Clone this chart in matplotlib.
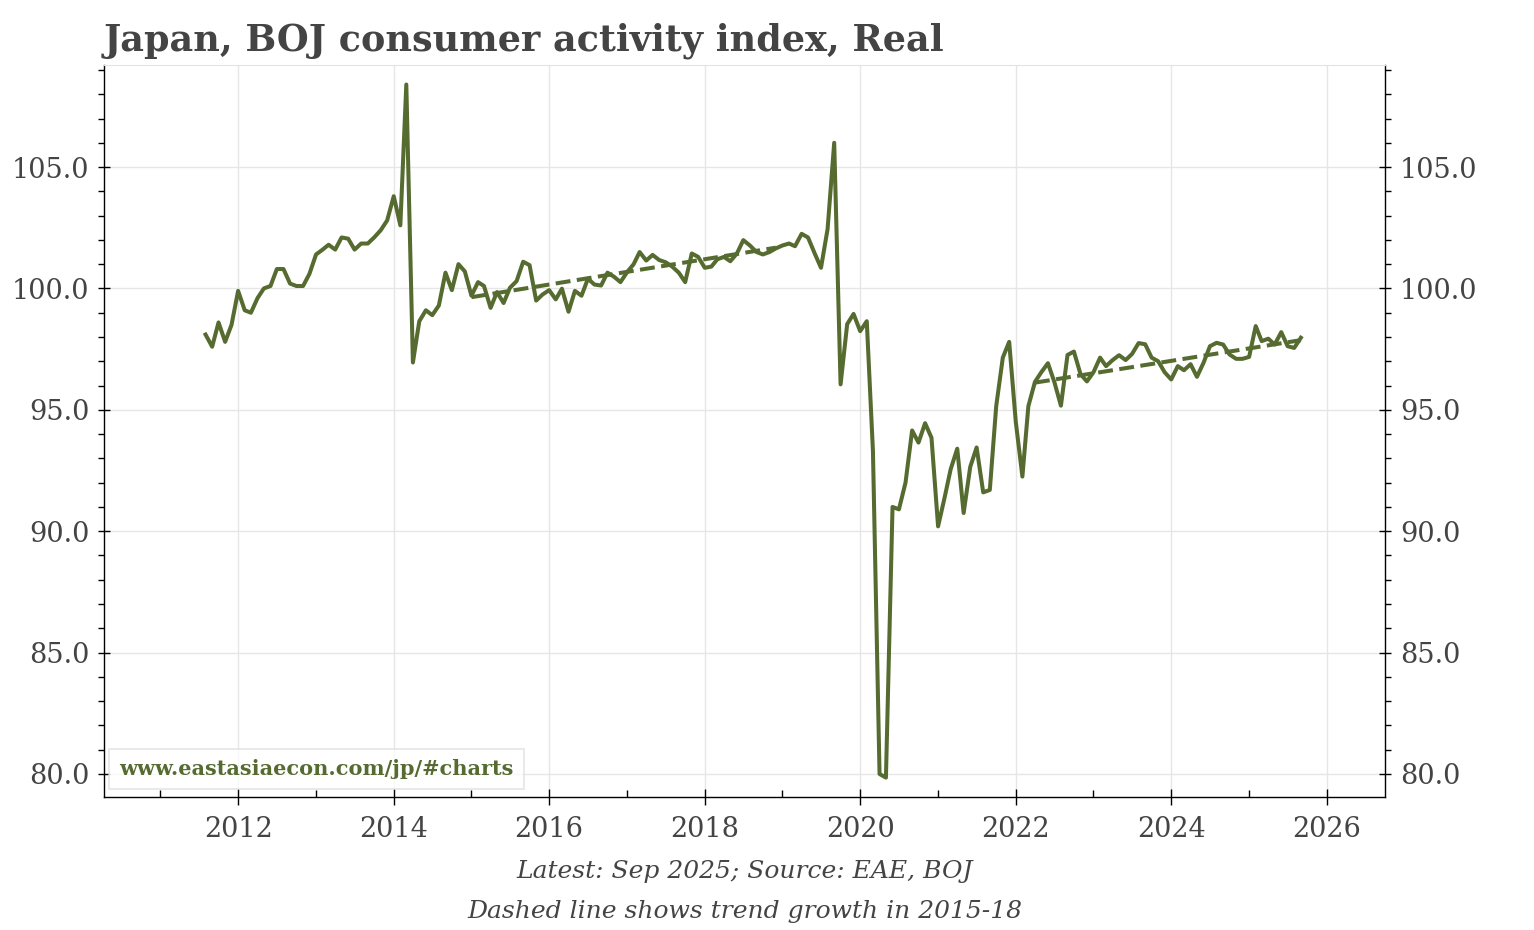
import pandas as pd
import matplotlib
matplotlib.use('Agg')
import matplotlib.pyplot as plt
import matplotlib.dates as mdates
from matplotlib.ticker import MultipleLocator, FormatStrFormatter

# BOJ consumer activity index, real (monthly, Aug 2011 - Sep 2025)
cai_2011 = [98.1, 97.6, 98.6, 97.8, 98.5]
cai_2012 = [99.9, 99.1, 99.0, 99.6, 100.0, 100.1, 100.8, 100.8, 100.2, 100.1, 100.1, 100.6]
cai_2013 = [101.4, 101.6, 101.8, 101.6, 102.1, 102.05, 101.6, 101.85, 101.85, 102.1, 102.4, 102.8]
cai_2014 = [103.8, 102.6, 108.4, 96.95, 98.65, 99.1, 98.9, 99.3, 100.65, 99.93, 101.0, 100.7]
cai_2015 = [99.7, 100.26, 100.1, 99.2, 99.85, 99.4, 100.03, 100.3, 101.1, 100.96, 99.5, 99.75]
cai_2016 = [99.93, 99.55, 99.99, 99.04, 99.9, 99.7, 100.4, 100.16, 100.12, 100.65, 100.48, 100.26]
cai_2017 = [100.67, 101.0, 101.5, 101.15, 101.38, 101.17, 101.08, 100.9, 100.65, 100.26, 101.44, 101.3]
cai_2018 = [100.85, 100.9, 101.2, 101.3, 101.12, 101.44, 101.99, 101.77, 101.5, 101.4, 101.5, 101.65]
cai_2019 = [101.77, 101.85, 101.74, 102.25, 102.1, 101.45, 100.85, 102.45, 106.0, 96.05, 98.53, 98.95]
cai_2020 = [98.24, 98.65, 93.3, 80.0, 79.85, 91.0, 90.9, 92.0, 94.15, 93.65, 94.45, 93.85]
cai_2021 = [90.2, 91.4, 92.55, 93.4, 90.75, 92.65, 93.45, 91.6, 91.7, 95.15, 97.15, 97.8]
cai_2022 = [94.5, 92.25, 95.15, 96.15, 96.55, 96.92, 96.15, 95.17, 97.26, 97.4, 96.47, 96.17]
cai_2023 = [96.55, 97.15, 96.8, 97.05, 97.25, 97.05, 97.3, 97.75, 97.7, 97.15, 97.0, 96.55]
cai_2024 = [96.25, 96.8, 96.63, 96.88, 96.36, 96.94, 97.62, 97.76, 97.69, 97.28, 97.1, 97.1]
cai_2025 = [97.18, 98.45, 97.83, 97.93, 97.69, 98.2, 97.62, 97.55, 97.97]

# trend growth 2015-18 (dashed lines), end points
trend1_dates = ['2015-01-01', '2018-12-01']
trend1_vals = [99.64, 101.68]
trend2_dates = ['2022-04-01', '2025-09-01']
trend2_vals = [96.12, 97.87]

cai = (cai_2011 + cai_2012 + cai_2013 + cai_2014 + cai_2015 + cai_2016 + cai_2017
       + cai_2018 + cai_2019 + cai_2020 + cai_2021 + cai_2022 + cai_2023 + cai_2024 + cai_2025)
dates = pd.date_range('2011-08-01', periods=len(cai), freq='MS')

green = '#566b30'
grey = '#444444'

plt.rcParams['font.family'] = ['DejaVu Serif']

fig = plt.figure(figsize=(15.34, 9.30), dpi=100)
ax = fig.add_axes([0.0678, 0.1435, 0.8353, 0.7865])

ax.plot(dates, cai, color=green, lw=2.9, solid_joinstyle='round', zorder=3)
ax.plot(pd.to_datetime(trend1_dates), trend1_vals, color=green, lw=2.9, ls='--', zorder=3)
ax.plot(pd.to_datetime(trend2_dates), trend2_vals, color=green, lw=2.9, ls='--', zorder=3)

ax.set_xlim(pd.Timestamp('2010-04-11'), pd.Timestamp('2026-10-03'))
ax.set_ylim(79.07, 109.2)

ax.xaxis.set_major_locator(mdates.YearLocator(2))
ax.xaxis.set_minor_locator(mdates.YearLocator(1))
ax.xaxis.set_major_formatter(mdates.DateFormatter('%Y'))
ax.yaxis.set_major_locator(MultipleLocator(5))
ax.yaxis.set_minor_locator(MultipleLocator(1))
ax.yaxis.set_major_formatter(FormatStrFormatter('%.1f'))

ax.grid(True, which='major', color='#e6e6e6', lw=1.0, zorder=0)
ax.set_axisbelow(True)

ax.spines['top'].set_color('#e3e3e3')
for s in ['left', 'right', 'bottom']:
    ax.spines[s].set_color('black')
    ax.spines[s].set_linewidth(1.0)

ax.tick_params(axis='y', which='major', direction='inout', length=9, width=1,
               left=True, right=True, labelleft=True, labelright=True,
               labelsize=19.5, labelcolor=grey, pad=6)
ax.tick_params(axis='y', which='minor', direction='out', length=4.5, width=1,
               left=True, right=True)
ax.tick_params(axis='x', which='major', direction='inout', length=12, width=1,
               labelsize=19.5, labelcolor=grey, pad=8, top=False)
ax.tick_params(axis='x', which='minor', direction='in', length=5, width=1, top=False)

ax.text(0.0117, 0.024, 'www.eastasiaecon.com/jp/#charts', transform=ax.transAxes,
        ha='left', va='bottom', fontsize=15, fontweight='bold', color=green, zorder=5,
        bbox=dict(boxstyle='square,pad=0.5', facecolor='white', alpha=0.75,
                  edgecolor='#dddddd', lw=1.2))

fig.text(0.0678, 0.946, 'Japan, BOJ consumer activity index, Real', ha='left',
         va='baseline', fontsize=26.3, fontweight='bold', color=grey)
fig.text(0.4857, 0.056, 'Latest: Sep 2025; Source: EAE, BOJ', ha='center',
         va='baseline', fontsize=18, style='italic', color=grey)
fig.text(0.4857, 0.013, 'Dashed line shows trend growth in 2015-18', ha='center',
         va='baseline', fontsize=18, style='italic', color=grey)

fig.savefig('out.png', dpi=100)
